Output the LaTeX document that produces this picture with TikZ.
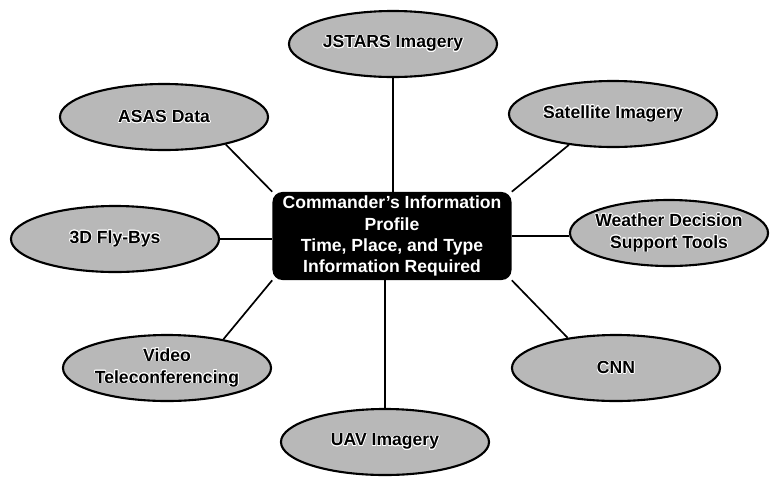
\documentclass[tikz,border=0pt]{standalone}
\usepackage{fontspec}
\setmainfont{Liberation Sans}
\usepackage[copies]{contour}
\contourlength{0.5pt}
\usetikzlibrary{shapes.geometric,backgrounds}
\definecolor{bubblegray}{gray}{0.72}
\newcommand{\halo}[1]{\contour{white}{#1}}
\tikzset{
  bubble/.style={ellipse, draw=black, line width=1.5pt, fill=bubblegray,
    minimum width=5.2cm, minimum height=1.65cm, inner sep=0pt,
    align=center, font=\bfseries\fontsize{12.5}{15.5}\selectfont},
  hub/.style={rectangle, rounded corners=0.25cm, fill=black, text=white,
    minimum width=5.975cm, minimum height=2.2cm, inner sep=0pt,
    align=center, font=\bfseries\fontsize{12.5}{15}\selectfont},
  link/.style={line width=1.2pt, black}
}
\begin{document}
\begin{tikzpicture}[x=0.025cm,y=-0.025cm]
\useasboundingbox (0,0) rectangle (770,476);

\node[hub] (hub) at (392,236) {Commander's Information\\Profile\\Time, Place, and Type\\Information Required};

\node[bubble] (jstars) at (393,44) {\halo{JSTARS Imagery}};
\node[bubble] (asas) at (164,117) {\halo{ASAS Data}};
\node[bubble] (sat) at (613,114) {\halo{Satellite Imagery}};
\node[bubble] (fly) at (115,239) {\halo{3D Fly-Bys}};
\node[bubble, minimum width=4.95cm, inner xsep=-0.35cm] (wx) at (669,233) {\halo{Weather Decision}\\\halo{Support Tools}};
\node[bubble, inner xsep=-0.2cm] (vtc) at (167,368) {\halo{Video}\\\halo{Teleconferencing}};
\node[bubble] (cnn) at (616,368) {\halo{CNN}};
\node[bubble] (uav) at (385,442) {\halo{UAV Imagery}};

\begin{pgfonlayer}{background}
  \draw[link] (jstars.south) -- (jstars.south |- hub.north);
  \draw[link] (asas.-24) -- (hub.north west);
  \draw[link] (sat.215) -- (hub.north east);
  \draw[link] (fly.east) -- (fly.east -| hub.west);
  \draw[link] (hub.east) -- (hub.east -| wx.west);
  \draw[link] (vtc.27) -- (hub.south west);
  \draw[link] (cnn.148) -- (hub.south east);
  \draw[link] (uav.north) -- (uav.north |- hub.south);
\end{pgfonlayer}
\end{tikzpicture}
\end{document}
